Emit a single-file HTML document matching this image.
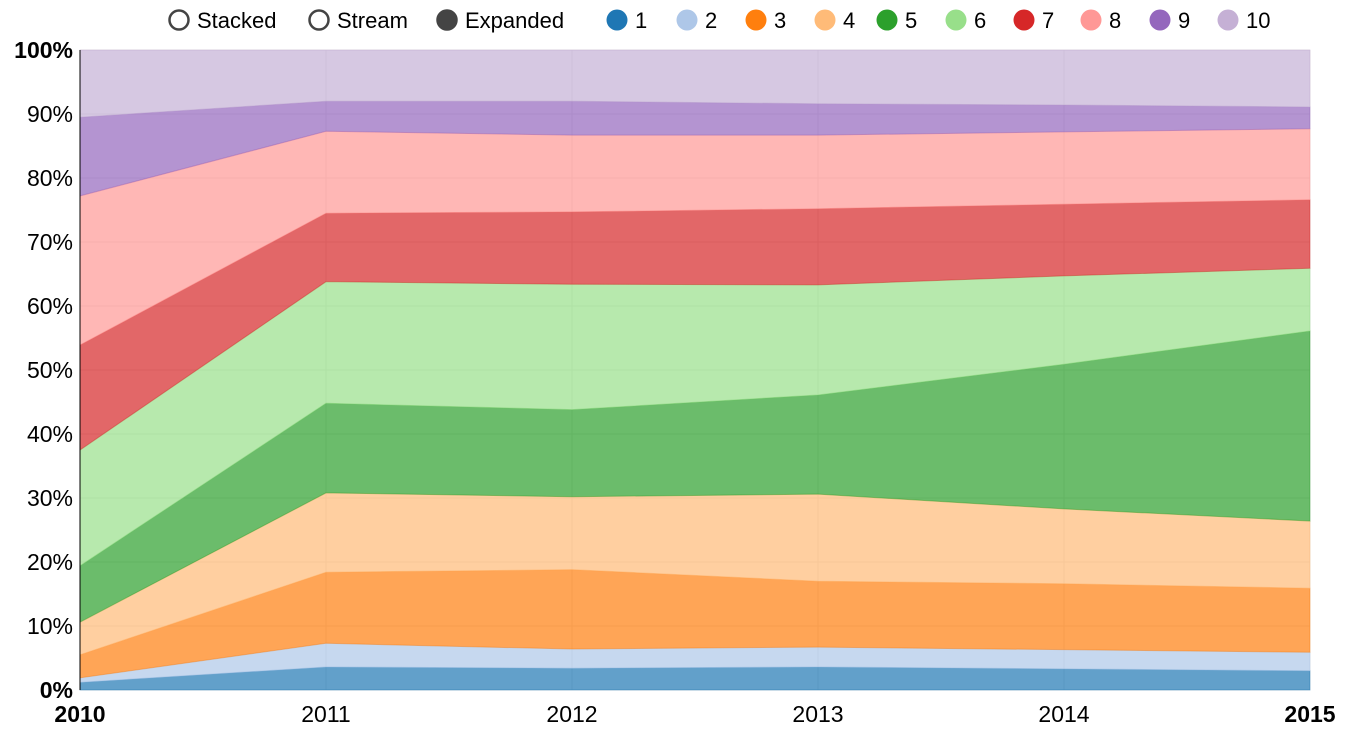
<!DOCTYPE html>
<html><head><meta charset="utf-8"><style>
body{margin:0;background:#fff;font-family:"Liberation Sans",Arial,sans-serif;}
svg text{font-family:"Liberation Sans",Arial,sans-serif;}
</style></head><body>
<svg id="chart" width="1350" height="736"></svg>
<script>
const years=[2010,2011,2012,2013,2014,2015];
const seriesNames=["1","2","3","4","5","6","7","8","9","10"];
const s1=[1.2,3.6,3.4,3.6,3.3,3.0];
const s2=[0.7,3.7,3.0,3.1,3.0,2.9];
const s3=[3.6,11.1,12.4,10.3,10.3,10.0];
const s4=[5.1,12.4,11.4,13.6,11.7,10.5];
const s5=[8.8,14.0,13.6,15.5,22.6,29.7];
const s6=[18.1,19.0,19.6,17.2,13.8,9.8];
const s7=[16.4,10.7,11.3,11.9,11.2,10.7];
const s8=[23.3,12.8,12.0,11.5,11.3,11.1];
const s9=[12.3,4.7,5.3,4.9,4.2,3.4];
const s10=[10.5,8.0,8.0,8.4,8.6,8.9];
const yTicks=[0,10,20,30,40,50,60,70,80,90,100];
const series=[s1,s2,s3,s4,s5,s6,s7,s8,s9,s10];
const colors=["#1f77b4","#aec7e8","#ff7f0e","#ffbb78","#2ca02c","#98df8a","#d62728","#ff9896","#9467bd","#c5b0d5"];
const NS="http://www.w3.org/2000/svg";
const svg=document.getElementById('chart');
const X0=80,X1=1310,Y0=690,Y1=50;
const xs=i=>X0+(years[i]-years[0])/(years[years.length-1]-years[0])*(X1-X0);
const ys=v=>Y0-v/100*(Y0-Y1);
function mk(t,a){const e=document.createElementNS(NS,t);for(const k in a)e.setAttribute(k,a[k]);svg.appendChild(e);return e;}
yTicks.forEach(t=>{const l=mk('line',{x1:X0,x2:X1,y1:ys(t),y2:ys(t),stroke:'#e5e5e5'});

});
years.forEach((y,i)=>{const l=mk('line',{x1:xs(i),x2:xs(i),y1:Y1,y2:Y0,stroke:'#e5e5e5'});

});
const totals=years.map((_,i)=>series.reduce((s,a)=>s+a[i],0));
let base=years.map(()=>0);
series.forEach((arr,k)=>{
  const top=base.map((b,i)=>b+arr[i]/totals[i]*100);
  let d='';
  years.forEach((_,i)=>{d+=(i?'L':'M')+xs(i)+','+ys(top[i]);});
  for(let i=years.length-1;i>=0;i--)d+='L'+xs(i)+','+ys(base[i]);
  const p=mk('path',{d:d+'Z',fill:colors[k],'fill-opacity':0.7,stroke:colors[k],'stroke-opacity':0.4,'stroke-width':1});
  
  
  base=top;
});
mk('line',{x1:X0,x2:X0,y1:Y1,y2:Y0,stroke:'#000'});
yTicks.forEach(t=>{const e=mk('text',{x:73,y:ys(t)+8,'text-anchor':'end','font-size':23,fill:'#000','font-weight':(t===0||t===100)?'bold':'normal'});
e.textContent=t+'%';

});
years.forEach((y,i)=>{const edge=i===0||i===years.length-1;
const e=mk('text',{x:xs(i),y:722,'text-anchor':'middle','font-size':23,fill:'#000','font-weight':edge?'bold':'normal'});
e.textContent=y;

});
const ctrl=[["Stacked",179,false],["Stream",319,false],["Expanded",447,true]];
ctrl.forEach(c=>{const g=mk('g',{});


const ci=document.createElementNS(NS,'circle');ci.setAttribute('cx',c[1]);ci.setAttribute('cy',20);ci.setAttribute('r',9.5);ci.setAttribute('fill',c[2]?'#444':'#fff');ci.setAttribute('stroke','#444');ci.setAttribute('stroke-width',2.5);g.appendChild(ci);
const t=document.createElementNS(NS,'text');t.setAttribute('x',c[1]+18);t.setAttribute('y',28);t.setAttribute('font-size',22);t.textContent=c[0];g.appendChild(t);});
const lx=[617,687,756,825,887,956,1024,1091,1160,1228];
seriesNames.forEach((n,k)=>{const g=mk('g',{});


const ci=document.createElementNS(NS,'circle');ci.setAttribute('cx',lx[k]);ci.setAttribute('cy',20);ci.setAttribute('r',10.5);ci.setAttribute('fill',colors[k]);g.appendChild(ci);
const t=document.createElementNS(NS,'text');t.setAttribute('x',lx[k]+18);t.setAttribute('y',28);t.setAttribute('font-size',22);t.textContent=n;g.appendChild(t);});
</script>
</body></html>
